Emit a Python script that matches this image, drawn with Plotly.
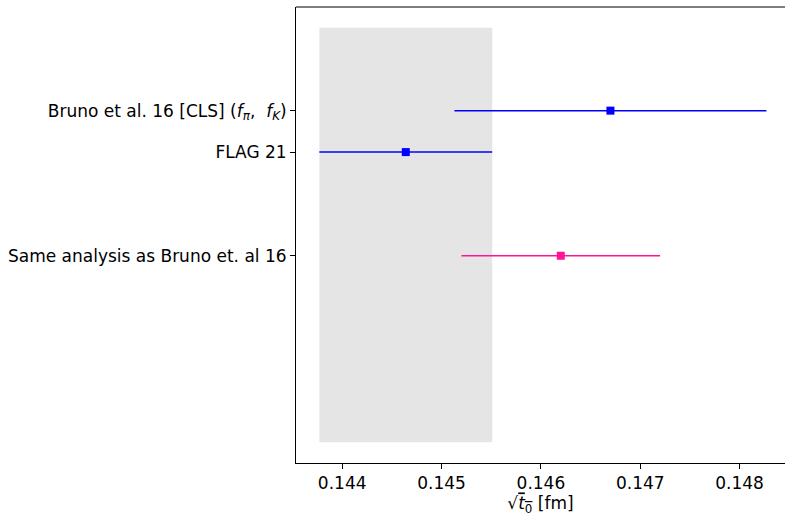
import plotly.graph_objects as go

labels = ["Bruno et al. 16 [CLS] (<i>f</i><sub><i>π</i></sub>,  <i>f</i><sub><i>K</i></sub>)",
          "FLAG 21",
          "Same analysis as Bruno et. al 16"]
ypos = [9, 8, 5.5]
values = [0.1467, 0.14464, 0.1462]
errors = [0.00157, 0.00087, 0.001]
colors = ["#0000ff", "#0000ff", "#ff1493"]
band_x = [0.14377, 0.14551]
band_y = [1, 11]

fig = go.Figure()
fig.add_shape(type="rect", xref="x", yref="y", x0=band_x[0], x1=band_x[1],
              y0=band_y[0], y1=band_y[1], fillcolor="rgb(229,229,229)",
              line=dict(width=0), layer="below")
for lab, y, v, e, c in zip(labels, ypos, values, errors, colors):
    fig.add_trace(go.Scatter(
        x=[v], y=[y], mode="markers",
        marker=dict(symbol="square", size=8, color=c),
        error_x=dict(type="data", array=[e], width=0, thickness=1.5, color=c),
        showlegend=False, name=lab))

font = dict(family="DejaVu Sans", size=17, color="black")
fig.update_layout(
    width=785, height=516,
    margin=dict(l=296, r=0, t=7, b=53),
    plot_bgcolor="white", paper_bgcolor="white",
    font=font,
    xaxis=dict(range=[0.143535, 0.148457], tickvals=[0.144, 0.145, 0.146, 0.147, 0.148],
               ticktext=["0.144", "0.145", "0.146", "0.147", "0.148"],
               ticks="outside", ticklen=5, tickwidth=1, tickcolor="black",
               showgrid=False, zeroline=False, showline=True, linecolor="black",
               linewidth=1, mirror=False, tickfont=font,
               title=dict(text="√<span style='text-decoration:overline'><i>t</i><sub>0</sub></span> [fm]",
                          font=font, standoff=5)),
    yaxis=dict(range=[0.5, 11.5], tickvals=ypos, ticktext=labels,
               ticks="outside", ticklen=5, tickwidth=1, tickcolor="black",
               showgrid=False, zeroline=False, showline=True, linecolor="black",
               linewidth=1, mirror=False, tickfont=font),
)
fig.add_shape(type="line", xref="paper", yref="paper", x0=0, x1=1, y0=1, y1=1,
              line=dict(color="black", width=1))
fig.write_html("out.html")
